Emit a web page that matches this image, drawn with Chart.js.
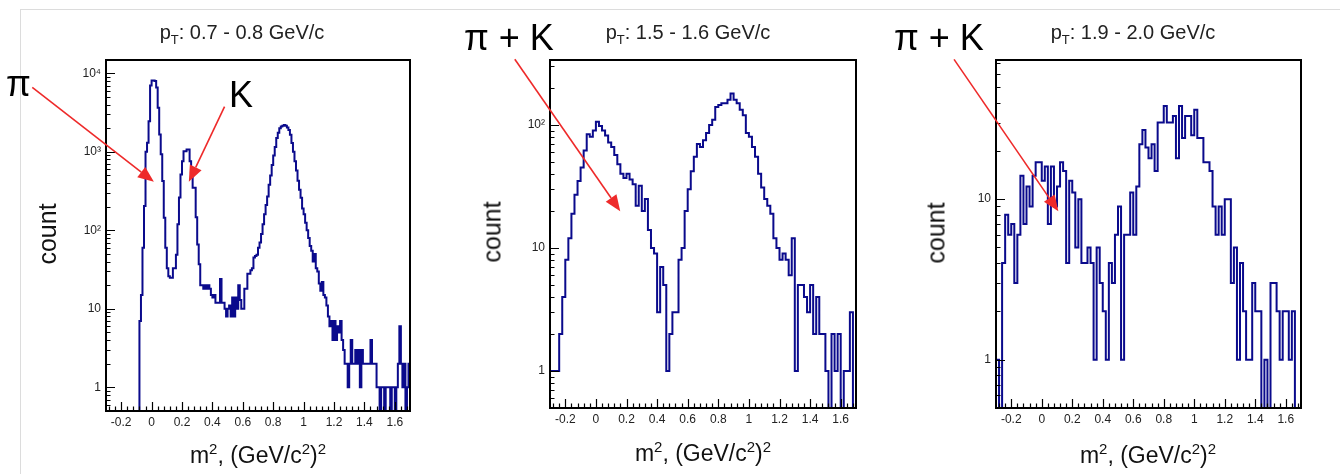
<!DOCTYPE html>
<html>
<head>
<meta charset="utf-8">
<title>m2 spectra</title>
<script src="https://cdn.jsdelivr.net/npm/chart.js@4.4.1/dist/chart.umd.min.js"></script>
<style>
	body { margin:0; width:1340px; height:474px; overflow:hidden; position:relative; background:#fff; font-family:"Liberation Sans", Arial, sans-serif; color:#111; }
	.frame { position:absolute; left:20px; top:9px; right:0; bottom:0; border-top:1px solid #dcdcdc; border-left:1px solid #dcdcdc; }
	canvas { position:absolute; top:0; }
	.title { position:absolute; top:22px; font-size:20px; line-height:20px; white-space:nowrap; transform:translateX(-50%); color:#222; }
	.title sub { font-size:13px; line-height:0; vertical-align:-5px; }
	.xtitle { position:absolute; font-size:23px; line-height:23px; white-space:nowrap; transform:translateX(-50%); color:#111; }
	.xtitle sup { font-size:15px; line-height:0; vertical-align:9px; }
	.ytitle { position:absolute; font-size:25px; line-height:25px; white-space:nowrap; transform:translate(-50%, -50%) rotate(-90deg); color:#111; }
	.note { position:absolute; font-size:36px; line-height:36px; white-space:nowrap; color:#000; }
</style>
</head>
<body>
<div class="frame"></div>

<canvas id="chart1" width="420" height="474" style="left:0px"></canvas>
<canvas id="chart2" width="426" height="474" style="left:440px"></canvas>
<canvas id="chart3" width="431" height="474" style="left:880px"></canvas>

<div class="title" style="left:242px">p<sub>T</sub>: 0.7 - 0.8 GeV/c</div>
<div class="title" style="left:688px">p<sub>T</sub>: 1.5 - 1.6 GeV/c</div>
<div class="title" style="left:1133px">p<sub>T</sub>: 1.9 - 2.0 GeV/c</div>

<div class="xtitle" style="left:258px; top:444px">m<sup>2</sup>, (GeV/c<sup>2</sup>)<sup>2</sup></div>
<div class="xtitle" style="left:703px; top:442px">m<sup>2</sup>, (GeV/c<sup>2</sup>)<sup>2</sup></div>
<div class="xtitle" style="left:1148px; top:444px">m<sup>2</sup>, (GeV/c<sup>2</sup>)<sup>2</sup></div>

<div class="ytitle" style="left:47px; top:234px">count</div>
<div class="ytitle" style="left:492px; top:232px">count</div>
<div class="ytitle" style="left:936px; top:233px">count</div>

<div class="note" style="left:6px; top:66px">π</div>
<div class="note" style="left:229px; top:77px">K</div>
<div class="note" style="left:464px; top:20px">π + K</div>
<div class="note" style="left:894px; top:20px">π + K</div>

<script>
"use strict";

// x axis, shared by the three panels
var xMin = -0.3, xMax = 1.7;
var xTickVals = [-0.2, 0, 0.2, 0.4, 0.6, 0.8, 1, 1.2, 1.4, 1.6];
var xTickText = ['-0.2', '0', '0.2', '0.4', '0.6', '0.8', '1', '1.2', '1.4', '1.6'];
var yMin = 0.5;
// empty bins sit under the log axis (like ROOT), the line is clipped there
var emptyBin = 0.1;

// pT 0.7 - 0.8 : bins of 0.01 from -0.3
var binStart1 = -0.3, binWidth1 = 0.01;
var counts1 = [
	0,0,0,0,0,0,0,0,0,0, 0,0,0,0,0,0,0,0,0,0, 0,0,
	7,15,60,204,1000,1310,2460,7000,8100,8100,
	8000,6600,3650,1660,930,426,145,60,33,26,
	25,25,33,33,49,120,263,515,760,1020,
	1020,1070,1070,760,470,350,350,147,66,37,
	20,20,18,20,18,20,18,15,14,15,
	12,12,12,24,12,12,10,8,10,11,
	8,14,8,14,10,20,13,10,10,18,
	18,28,28,31,33,45,47,49,60,70,
	90,120,160,210,270,380,500,680,900,1150,
	1500,1750,2000,2100,2150,2200,2150,2050,1900,1650,
	1300,1000,760,580,430,330,260,190,160,125,
	100,80,63,55,40,50,33,30,21,17,
	22,15,14,11,8,6,7,4,7,4,
	6,5,7,4,3,2,2,1,2,4,
	2,2,3,2,3,1,3,2,2,2,
	2,2,4,2,2,2,1,1,0,1,
	1,0,1,1,1,0,1,1,0,1,
	2,6,2,1,2,0,1,2
];
var yMax1 = 14800;
var yTickVals1 = [1, 10, 100, 1000, 10000];
var yTickText1 = ['1', '10', '10²', '10³', '10⁴'];
var arrows1 = [[-0.785, 6640, 0.015, 415], [0.48, 3760, 0.245, 415]];

// pT 1.5 - 1.6 : bins of 0.02 from -0.3
var binStart2 = -0.3, binWidth2 = 0.02;
var counts2 = [
	1,1,1,2,4,8,12,19,27,35,
	45,62,84,80,90,106,98,90,82,72,
	66,57,48,40,37,40,36,33,22,32,
	20,25,14,10,9,3,7,5,1,2,
	3,3,8,10,20,30,42,55,70,66,
	75,86,100,110,140,145,150,150,160,180,
	160,150,133,120,86,80,66,55,40,31,
	25,22,19,12,10,8,9,8,6,12,
	1,5,5,4,3,5,2,4,2,2,
	1,0,2,1,2,0,1,1,3,0
];
var yMax2 = 337;
var yTickVals2 = [1, 10, 100];
var yTickText2 = ['1', '10', '10²'];
var arrows2 = [[-0.53, 342, 0.159, 19.9]];

// pT 1.9 - 2.0 : bins of 0.02 from -0.3
var binStart3 = -0.3, binWidth3 = 0.02;
var counts3 = [
	1,0,4,8,6,7,3,6,14,7,
	12,9,14,17,17,13,16,7,16,9,
	12,17,15,4,13,11,5,10,4,4,
	5,4,1,5,3,2,1,4,3,6,
	9,1,6,6,11,6,12,22,27,21,
	18,22,15,30,30,38,30,30,33,18,
	38,24,33,33,25,36,24,24,17,17,
	15,9,6,9,6,10,10,3,5,1,
	4,2,1,1,3,2,2,0,1,0,
	3,3,2,1,2,2,1,2,0,0
];
var yMax3 = 73.6;
var yTickVals3 = [1, 10];
var yTickText3 = ['1', '10'];
var arrows3 = [[-0.575, 74.3, 0.109, 8.4]];

var lineColor = '#0a0a8c';
var arrowColor = '#ee2a2a';
var tickFont = { family: '"Liberation Sans", Arial, sans-serif', size: 12 };

function histPoints(start, width, counts) {
	var pts = [];
	for (var i = 0; i < counts.length; i++) {
		pts.push({ x: start + width * i, y: counts[i] > 0 ? counts[i] : emptyBin });
	}
	// close the last bin
	var last = counts[counts.length - 1];
	pts.push({ x: start + width * counts.length, y: last > 0 ? last : emptyBin });
	return pts;
}

function drawArrow(ctx, x0, y0, x1, y1) {
	var ang = Math.atan2(y1 - y0, x1 - x0);
	var head = 16, half = 6.5;
	var bx = x1 - head * Math.cos(ang), by = y1 - head * Math.sin(ang);
	ctx.strokeStyle = arrowColor;
	ctx.fillStyle = arrowColor;
	ctx.lineWidth = 1.6;
	ctx.beginPath();
	ctx.moveTo(x0, y0);
	ctx.lineTo(bx, by);
	ctx.stroke();
	ctx.beginPath();
	ctx.moveTo(x1, y1);
	ctx.lineTo(bx + half * Math.sin(ang), by - half * Math.cos(ang));
	ctx.lineTo(bx - half * Math.sin(ang), by + half * Math.cos(ang));
	ctx.closePath();
	ctx.fill();
}

// ROOT style frame: box + ticks drawn inside, plus the red arrows
function framePlugin(cfg) {
	return {
		id: 'rootFrame',
		afterDraw: function (chart) {
			var ctx = chart.ctx;
			var a = chart.chartArea;
			var xs = chart.scales.x, ys = chart.scales.y;
			var k, v, p, d, m;
			ctx.save();
			ctx.strokeStyle = '#000';
			ctx.lineWidth = 1.2;
			ctx.beginPath();
			for (k = -7; k <= 42; k++) {
				v = k * 0.04;
				p = Math.round(xs.getPixelForValue(v)) + 0.5;
				ctx.moveTo(p, a.bottom);
				ctx.lineTo(p, a.bottom - (k % 5 === 0 ? 9 : 4.5));
			}
			for (d = -1; d <= 5; d++) {
				for (m = 1; m <= 9; m++) {
					v = m * Math.pow(10, d);
					if (v < yMin || v > cfg.yMax) continue;
					p = Math.round(ys.getPixelForValue(v)) + 0.5;
					ctx.moveTo(a.left, p);
					ctx.lineTo(a.left + (m === 1 ? 9 : 4.5), p);
				}
			}
			ctx.stroke();
			ctx.lineWidth = 2;
			ctx.strokeRect(a.left, a.top, a.right - a.left, a.bottom - a.top);
			cfg.arrows.forEach(function (r) {
				drawArrow(ctx, xs.getPixelForValue(r[0]), ys.getPixelForValue(r[1]),
					xs.getPixelForValue(r[2]), ys.getPixelForValue(r[3]));
			});
			ctx.restore();
		}
	};
}

function makePanel(cfg) {
	return new Chart(document.getElementById(cfg.id), {
		type: 'line',
		data: {
			datasets: [{
				data: histPoints(cfg.start, cfg.width, cfg.counts),
				borderColor: lineColor,
				borderWidth: 2,
				stepped: true,
				pointRadius: 0,
				fill: false
			}]
		},
		options: {
			responsive: false,
			animation: false,
			events: [],
			layout: { padding: { left: 0, top: 60, right: 10, bottom: cfg.padBottom } },
			plugins: { legend: { display: false }, tooltip: { enabled: false } },
			scales: {
				x: {
					type: 'linear',
					min: xMin,
					max: xMax,
					grid: { display: false, drawTicks: false },
					border: { display: false },
					ticks: {
						autoSkip: false,
						maxRotation: 0,
						padding: 4,
						color: '#222',
						font: tickFont,
						callback: function (value, index) { return xTickText[index]; }
					},
					afterBuildTicks: function (scale) {
						scale.ticks = xTickVals.map(function (v) { return { value: v }; });
					},
					afterFit: function (scale) { scale.height = 30; }
				},
				y: {
					type: 'logarithmic',
					min: yMin,
					max: cfg.yMax,
					grid: { display: false, drawTicks: false },
					border: { display: false },
					ticks: {
						autoSkip: false,
						padding: 5,
						color: '#222',
						font: tickFont,
						callback: function (value, index) { return cfg.yText[index]; }
					},
					afterBuildTicks: function (scale) {
						scale.ticks = cfg.yVals.map(function (v) { return { value: v }; });
					},
					afterFit: function (scale) { scale.width = cfg.axisW; }
				}
			}
		},
		plugins: [framePlugin(cfg)]
	});
}

makePanel({ id: 'chart1', start: binStart1, width: binWidth1, counts: counts1, yMax: yMax1,
	yVals: yTickVals1, yText: yTickText1, arrows: arrows1, axisW: 106, padBottom: 33 });
makePanel({ id: 'chart2', start: binStart2, width: binWidth2, counts: counts2, yMax: yMax2,
	yVals: yTickVals2, yText: yTickText2, arrows: arrows2, axisW: 110, padBottom: 36 });
makePanel({ id: 'chart3', start: binStart3, width: binWidth3, counts: counts3, yMax: yMax3,
	yVals: yTickVals3, yText: yTickText3, arrows: arrows3, axisW: 116, padBottom: 36 });
</script>
</body>
</html>
